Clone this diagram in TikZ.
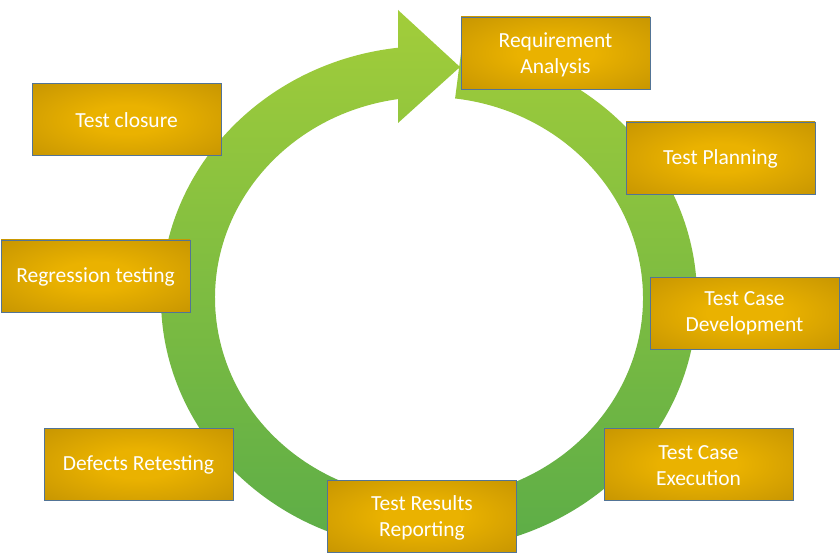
\documentclass[tikz,border=0pt]{standalone}
\usepackage{fontspec}
\setmainfont{Carlito}
\definecolor{ringtop}{RGB}{162,205,58}
\definecolor{ringbot}{RGB}{90,172,72}
\definecolor{goldc}{RGB}{234,178,0}
\definecolor{golde}{RGB}{180,134,2}
\definecolor{boxline}{RGB}{82,116,150}
\pgfdeclareradialshading{goldrad}{\pgfpoint{0bp}{0bp}}{color(0bp)=(goldc); color(10bp)=(goldc); color(50bp)=(golde); color(72bp)=(golde)}
\tikzset{
  stagebox/.style={draw=boxline, line width=0.9pt, shading=goldrad,
    minimum width=189pt, minimum height=72pt, inner sep=0pt},
  stagetext/.style={inner sep=0pt, align=center, text=white,
    font=\fontsize{21.5pt}{26pt}\selectfont},
  ringband/.style={top color=ringtop, bottom color=ringbot, draw=none}
}
\begin{document}
\begin{tikzpicture}[x=1pt,y=1pt]
\useasboundingbox[fill=white] (0,0) rectangle (840,555);
% circular arrow
\shade[ringband]
  (461.66,507.1) arc[start angle=83, end angle=-263.36, x radius=268pt, y radius=252pt]
  -- (398,545) -- (460,488) -- (398,432) -- (398,455.9)
  arc[start angle=-261.67, end angle=83, x radius=214pt, y radius=201pt]
  -- cycle;
% stages
\node[stagebox] (req)  at (555.5,502)  {};
\node[stagebox] (plan) at (720.5,397)  {};
\node[stagebox] (dev)  at (744.5,242)  {};
\node[stagebox] (exec) at (698.5,91)   {};
\node[stagebox] (rep)  at (422,39)     {};
\node[stagebox] (ret)  at (138.5,91)   {};
\node[stagebox] (reg)  at (95.5,279)   {};
\node[stagebox] (clo)  at (126.5,435.5){};
\node[stagetext] (req-t)  at ([yshift=-1.5pt]req.center)  {Requirement\\Analysis};
\node[stagetext] (plan-t) at ([yshift=-1pt]plan.center) {Test Planning};
\node[stagetext] (dev-t)  at ([yshift=-0.5pt]dev.center)  {Test Case\\Development};
\node[stagetext] (exec-t) at ([yshift=-1.5pt]exec.center) {Test Case\\Execution};
\node[stagetext] (rep-t)  at ([yshift=-1.5pt]rep.center)  {Test Results\\Reporting};
\node[stagetext] (ret-t)  at ([yshift=-1pt]ret.center)  {Defects Retesting};
\node[stagetext] (reg-t)  at ([yshift=-1pt]reg.center)  {Regression testing};
\node[stagetext] (clo-t)  at ([yshift=-1pt]clo.center)  {Test closure};
\end{tikzpicture}
\end{document}
